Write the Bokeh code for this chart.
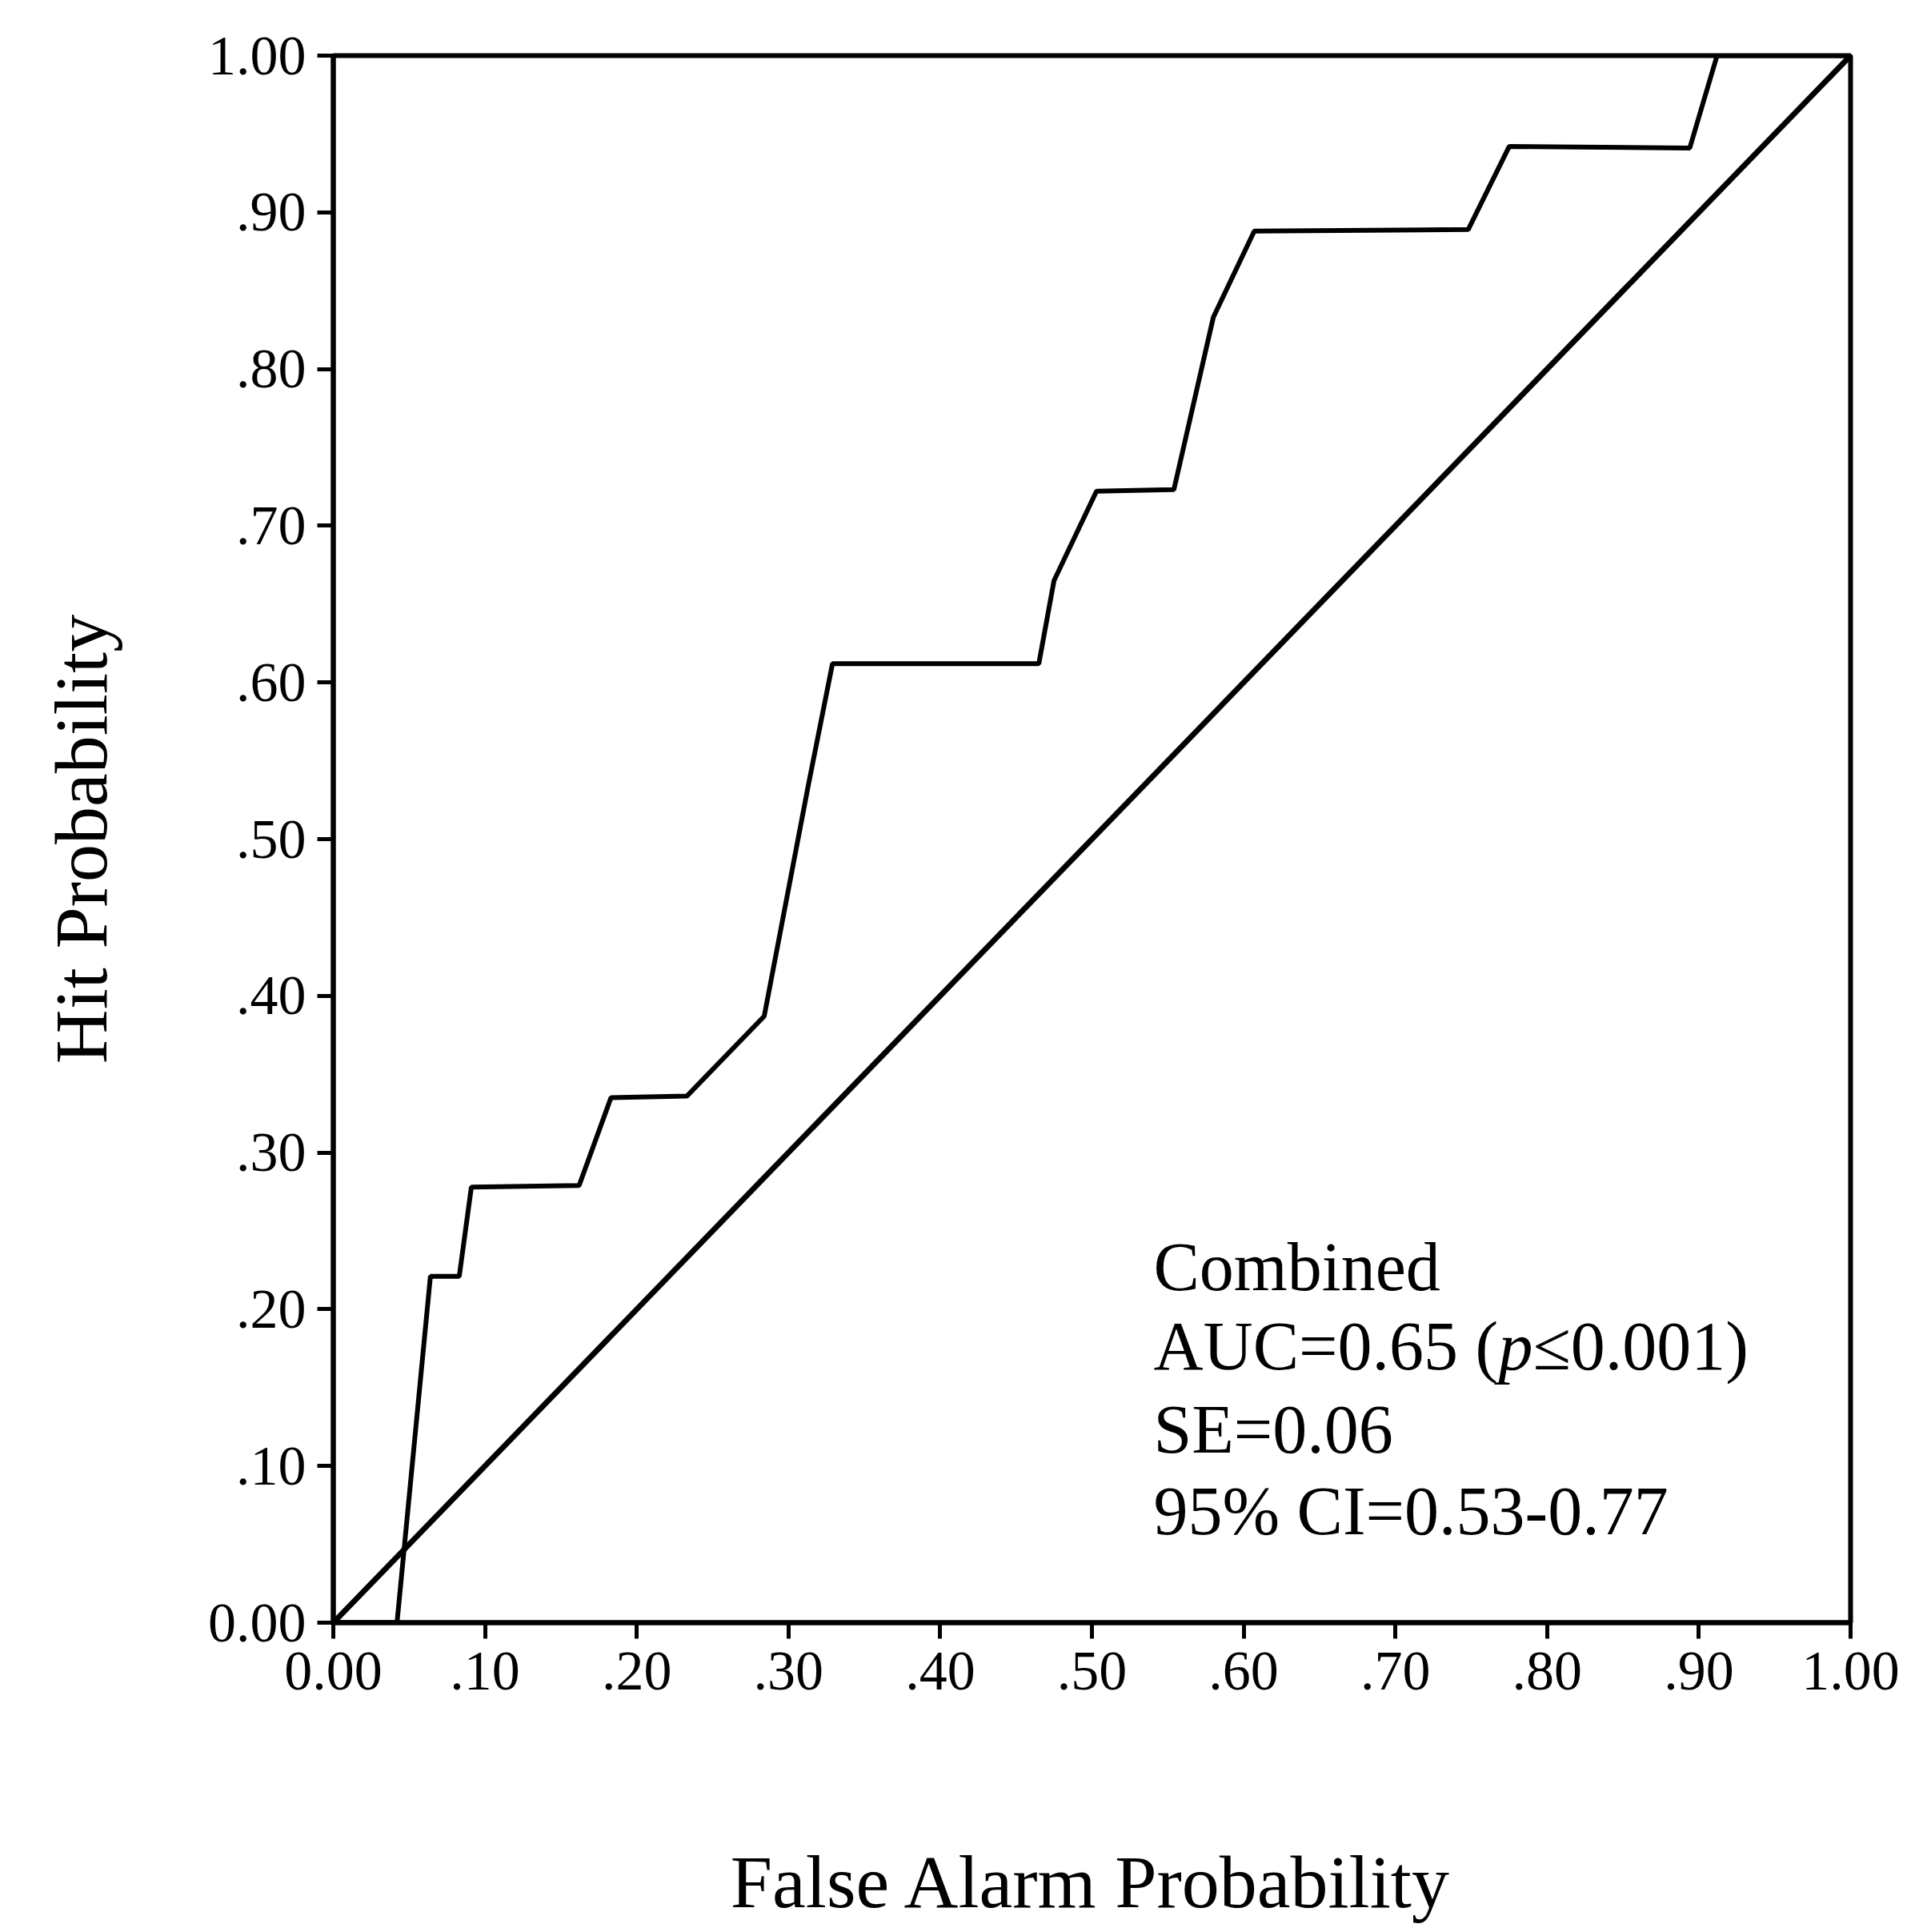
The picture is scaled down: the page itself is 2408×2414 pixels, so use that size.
from bokeh.plotting import figure
from bokeh.models import Range1d, FixedTicker, Label
from bokeh.embed import file_html
from bokeh.resources import INLINE

# ROC curve (False alarm probability vs hit probability)
fpr = [0.0, 0.042, 0.064, 0.083, 0.091, 0.162, 0.183, 0.233, 0.284, 0.313, 0.329,
       0.465, 0.475, 0.503, 0.554, 0.580, 0.607, 0.748, 0.775, 0.894, 0.912, 1.0]
tpr = [0.0, 0.0, 0.221, 0.221, 0.278, 0.279, 0.335, 0.336, 0.387, 0.534, 0.612,
       0.612, 0.665, 0.722, 0.723, 0.833, 0.888, 0.889, 0.942, 0.941, 1.0, 1.0]

# chance (reference) line
ref_x = [0.0, 1.0]
ref_y = [0.0, 1.0]

tick_values = [0.0, 0.1, 0.2, 0.3, 0.4, 0.5, 0.6, 0.7, 0.8, 0.9, 1.0]
tick_labels = ["0.00", ".10", ".20", ".30", ".40", ".50", ".60", ".70", ".80", ".90", "1.00"]

x_title = "False Alarm Probability"
y_title = "Hit Probability"
stats_lines = ["Combined", "SE=0.06", "95% CI=0.53-0.77"]

FONT = "Liberation Serif"

p = figure(width=2408, height=2414,
           x_range=Range1d(0, 1), y_range=Range1d(0, 1),
           output_backend="svg", toolbar_location=None,
           min_border_left=416, min_border_right=96,
           min_border_top=69, min_border_bottom=387)

p.background_fill_color = "white"
p.border_fill_color = "white"
p.grid.visible = False
p.outline_line_color = "black"
p.outline_line_width = 6
p.outline_line_alpha = 1.0

overrides = {v: s for v, s in zip(tick_values, tick_labels)}
for ax in (p.xaxis[0], p.yaxis[0]):
    ax.ticker = FixedTicker(ticks=tick_values)
    ax.major_label_overrides = overrides
    ax.axis_line_width = 6
    ax.axis_line_color = "black"
    ax.major_tick_line_width = 5
    ax.major_tick_line_color = "black"
    ax.major_tick_out = 20
    ax.major_tick_in = 0
    ax.minor_tick_line_color = None
    ax.major_label_text_font = FONT
    ax.major_label_text_font_size = "70px"
    ax.major_label_text_color = "black"
    ax.axis_label_text_font = FONT
    ax.axis_label_text_font_size = "94px"
    ax.axis_label_text_font_style = "normal"
    ax.axis_label_text_color = "black"

p.xaxis.axis_label = x_title
p.yaxis.axis_label = y_title
p.xaxis.major_label_standoff = 17
p.yaxis.major_label_standoff = 14
p.xaxis.axis_label_standoff = 185
p.yaxis.axis_label_standoff = 104

p.line(ref_x, ref_y, line_color="black", line_width=7)
p.line(fpr, tpr, line_color="black", line_width=6)

# statistics block
tx = 0.5406
ty = [0.227, 0.1765, 0.1235, 0.0715]
fs = "86px"
p.add_layout(Label(x=tx, y=ty[0], text=stats_lines[0], text_font=FONT,
                   text_font_size=fs, text_color="black", text_baseline="alphabetic"))
p.add_layout(Label(x=tx, y=ty[1], text="AUC=0.65 (", text_font=FONT,
                   text_font_size=fs, text_color="black", text_baseline="alphabetic"))
p.add_layout(Label(x=tx, y=ty[1], x_offset=431, text="p", text_font=FONT,
                   text_font_style="italic",
                   text_font_size=fs, text_color="black", text_baseline="alphabetic"))
p.add_layout(Label(x=tx, y=ty[1], x_offset=474, text="\u22640.001)", text_font=FONT,
                   text_font_size=fs, text_color="black", text_baseline="alphabetic"))
p.add_layout(Label(x=tx, y=ty[2], text=stats_lines[1], text_font=FONT,
                   text_font_size=fs, text_color="black", text_baseline="alphabetic"))
p.add_layout(Label(x=tx, y=ty[3], text=stats_lines[2], text_font=FONT,
                   text_font_size=fs, text_color="black", text_baseline="alphabetic"))

open("out.html", "w").write(file_html(p, INLINE))
